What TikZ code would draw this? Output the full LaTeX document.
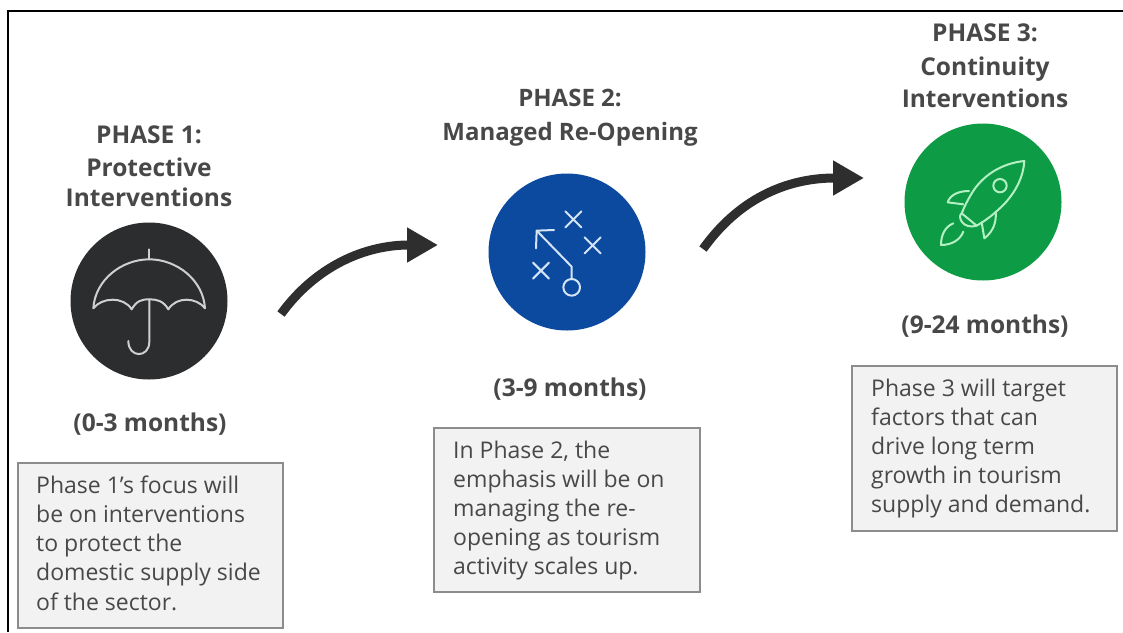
\documentclass[tikz,border=0pt]{standalone}
\usepackage{fontspec}
\setmainfont{Open Sans}
\usetikzlibrary{arrows.meta}
\definecolor{ink}{HTML}{484848}
\definecolor{boxfill}{HTML}{F2F2F2}
\definecolor{boxline}{HTML}{8C8C8C}
\definecolor{arrowc}{HTML}{2E2E2E}
\definecolor{cdark}{HTML}{2B2D2F}
\definecolor{cblue}{HTML}{0B4A9F}
\definecolor{cgreen}{HTML}{0D9C45}
\definecolor{iconw}{HTML}{CFCFCF}
\definecolor{iconb}{HTML}{D5E5F5}
\definecolor{icong}{HTML}{B5F0C5}
\tikzset{
  head/.style={font=\fontsize{24.5}{24.5}\selectfont\bfseries,text=ink,anchor=base,inner sep=0},
  body/.style={font=\fontsize{23}{29}\selectfont,text=ink,anchor=base west,inner sep=0},
  panel/.style={draw=boxline,fill=boxfill,line width=1.6pt},
  disc/.style={circle,minimum size=157pt,inner sep=0},
  bigarrow/.style={draw=arrowc,line width=9pt,-{Triangle[length=31pt,width=33pt]}},
  icon/.style={line width=2pt,line cap=round,line join=round},
}
\begin{document}
\begin{tikzpicture}[x=1pt,y=-1pt]
\useasboundingbox (0,0) rectangle (1123,632);
\fill[white] (0,0) rectangle (1123,632);
\draw[black,line width=2pt] (8,632) -- (8,10.5) -- (1123,10.5);

% panels
\draw[panel] (18,463) rectangle (283,628);
\draw[panel] (434,428) rectangle (700,592);
\draw[panel] (852,366) rectangle (1117,531);

% discs
\node[disc,fill=cdark] (c1) at (149,301) {};
\node[disc,fill=cblue] (c2) at (567,252) {};
\node[disc,fill=cgreen] (c3) at (983,202) {};

% headings
\node[head] (h1a) at (149,143) {PHASE 1:};
\node[head] (h1b) at (149,176) {Protective};
\node[head] (h1c) at (149,206) {Interventions};
\node[head,font=\fontsize{24}{24}\selectfont\bfseries] (h2a) at (570,106) {PHASE 2:};
\node[head,font=\fontsize{24}{24}\selectfont\bfseries] (h2b) at (570,140) {Managed Re-Opening};
\node[head] (h3a) at (985,41) {PHASE 3:};
\node[head] (h3b) at (985,75) {Continuity};
\node[head] (h3c) at (985,107) {Interventions};
\node[head] (m1) at (150,431) {(0-3 months)};
\node[head] (m2) at (570,396) {(3-9 months)};
\node[head] (m3) at (985,333) {(9-24 months)};

% body text
\node[body] (b1a) at (36,493) {Phase 1’s focus will};
\node[body] (b1b) at (36,522) {be on interventions};
\node[body] (b1c) at (36,551) {to protect the};
\node[body] (b1d) at (36,580) {domestic supply side};
\node[body] (b1e) at (36,610) {of the sector.};
\node[body] (b2a) at (453,458) {In Phase 2, the};
\node[body] (b2b) at (453,487) {emphasis will be on};
\node[body] (b2c) at (453,516) {managing the re-};
\node[body] (b2d) at (453,545) {opening as tourism};
\node[body] (b2e) at (453,574) {activity scales up.};
\node[body] (b3a) at (871,396) {Phase 3 will target};
\node[body] (b3b) at (871,425) {factors that can};
\node[body] (b3c) at (871,454) {drive long term};
\node[body] (b3d) at (871,483) {growth in tourism};
\node[body] (b3e) at (871,512) {supply and demand.};

% arrows
\coordinate (a1s) at (281,314);
\coordinate (a1c) at (316,266);
\coordinate (a1d) at (365,245);
\coordinate (a1e) at (438,245);
\coordinate (a2s) at (703,249);
\coordinate (a2c) at (738,200);
\coordinate (a2d) at (785,178);
\coordinate (a2e) at (864,178);
\draw[bigarrow] (a1s) .. controls (a1c) and (a1d) .. (a1e);
\draw[bigarrow] (a2s) .. controls (a2c) and (a2d) .. (a2e);

% umbrella
\begin{scope}[shift={(60,210)},x=0.3333pt,y=-0.3333pt,icon,draw=iconw]
\draw (100,295) .. controls (105,210) and (185,148) .. (268,148)
  .. controls (350,148) and (430,210) .. (435,295)
  .. controls (410,262) and (350,258) .. (325,298)
  .. controls (310,272) and (290,268) .. (268,268)
  .. controls (245,268) and (230,272) .. (215,298)
  .. controls (190,258) and (125,262) .. (100,295) -- cycle;
\draw (268,148) -- (268,118);
\draw (268,268) -- (268,395) .. controls (268,445) and (205,445) .. (205,393);
\end{scope}

% playbook
\begin{scope}[shift={(480,170)},x=0.3333pt,y=-0.3333pt,icon,draw=iconb]
\draw (256,124) -- (304,172) (304,124) -- (256,172);
\draw (314,202) -- (362,250) (362,202) -- (314,250);
\draw (159,278) -- (207,326) (207,278) -- (159,326);
\draw (275,328) -- (275,290) -- (170,182);
\draw (222,180) -- (170,182) -- (168,235);
\draw (275,352) circle[radius=25];
\end{scope}

% rocket
\begin{scope}[shift={(895,115)},x=0.3333pt,y=-0.3333pt,icon,draw=icong]
\draw (388,138) .. controls (320,145) and (265,180) .. (232,232)
  .. controls (218,255) and (208,275) .. (200,295)
  -- (245,332)
  .. controls (275,315) and (300,295) .. (330,265)
  .. controls (365,225) and (385,185) .. (388,138) -- cycle;
\draw (222,228) .. controls (190,228) and (165,240) .. (158,262) -- (205,268);
\draw (302,290) .. controls (305,320) and (295,350) .. (268,370) -- (260,322);
\draw (200,295) .. controls (185,305) and (205,345) .. (245,332);
\draw (175,325) .. controls (150,335) and (138,360) .. (138,390)
  .. controls (170,390) and (195,375) .. (205,350);
\draw (315,212) circle[radius=20];
\end{scope}
\end{tikzpicture}
\end{document}
